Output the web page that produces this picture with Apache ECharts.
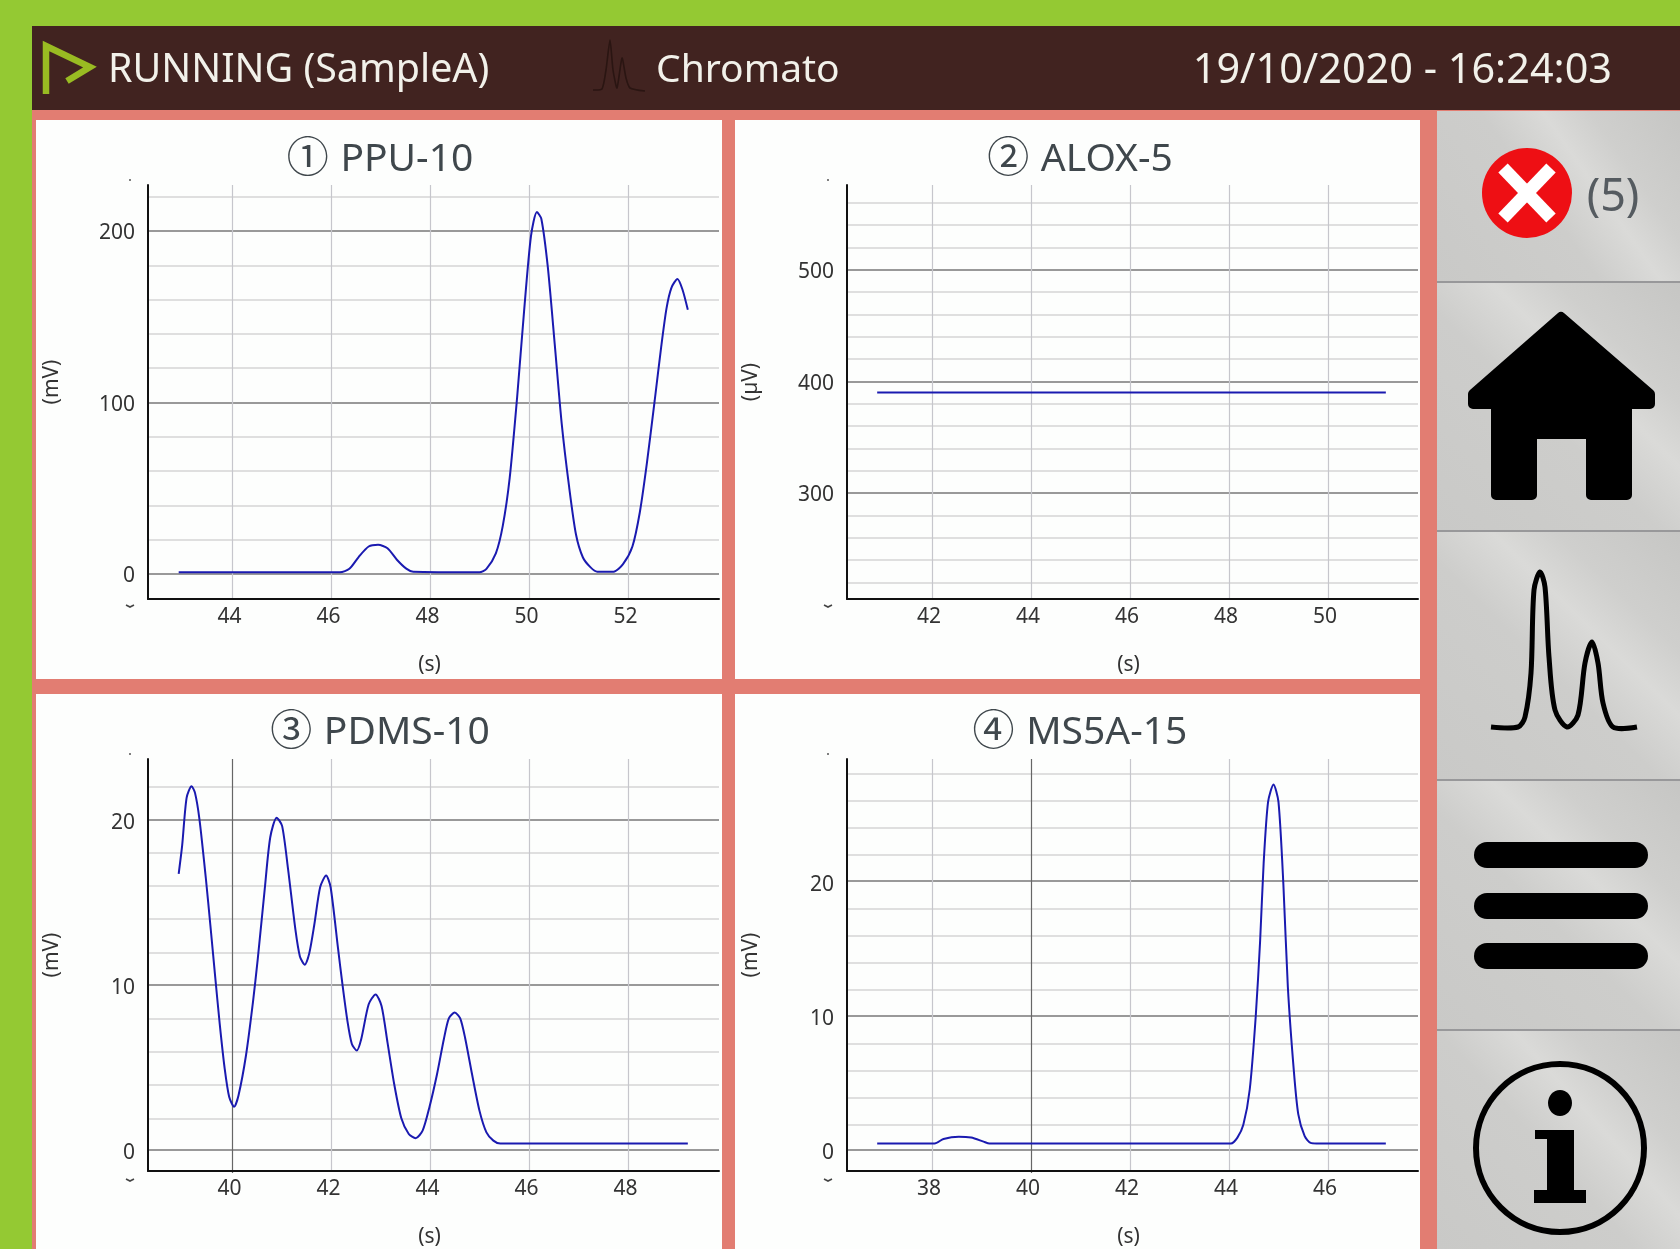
<!DOCTYPE html>
<html><head><meta charset="utf-8">
<style>html,body{margin:0;padding:0;background:#94c933}#c{width:1680px;height:1249px}</style>
<script src="https://cdn.jsdelivr.net/npm/echarts@6/dist/echarts.min.js"></script>
</head><body><div id="c"></div>
<script>
const ppuX=[42.91,46.17,46.36,46.55,46.75,46.94,47.13,47.32,47.51,47.65,48.99,49.13,49.32,49.46,49.6,49.75,49.89,50.03,50.15,50.24,50.37,50.51,50.65,50.8,50.94,51.08,51.23,51.37,51.7,51.89,52.08,52.23,52.37,52.53,52.66,52.77,52.87,52.99,53.09,53.2];
const ppuY=[1,1,3,10,16,17,15,8.3,3.1,1.3,1,3,12,28,56,103,153,197,211,207,179,134,88,51,23,9.6,4,1.3,1.3,5.7,16,36,64,101,132,155,167,172,166,154];
const aloxX=[40.89,51.17];
const aloxY=[390,390];
const pdmsX=[38.91,38.98,39.07,39.17,39.24,39.33,39.46,39.55,39.65,39.74,39.84,39.93,40.03,40.12,40.27,40.41,40.51,40.65,40.76,40.89,41.0,41.12,41.27,41.36,41.46,41.55,41.65,41.77,41.89,41.98,42.13,42.22,42.32,42.41,42.51,42.6,42.75,42.89,43.01,43.13,43.27,43.41,43.56,43.7,43.84,43.98,44.13,44.27,44.37,44.49,44.6,44.7,44.84,44.99,45.13,45.27,45.41,49.2];
const pdmsY=[16.7,18.4,21.3,22,21.6,20,16.4,13.6,10.4,7.6,4.9,3.2,2.6,3.3,5.7,8.9,11.6,15.8,18.9,20.1,19.6,17,13.3,11.7,11.2,11.9,13.6,15.9,16.6,15.9,12.2,10,7.8,6.4,6,6.7,8.8,9.4,8.7,6.5,3.9,1.9,0.95,0.7,1.15,2.6,4.55,6.7,7.95,8.3,7.95,6.75,4.55,2.35,1.05,0.55,0.37,0.37];
const msX=[36.89,38.05,38.23,38.54,38.79,39.04,39.16,44.04,44.17,44.29,44.42,44.54,44.63,44.7,44.79,44.9,45.0,45.1,45.19,45.31,45.4,45.53,45.65,45.77,47.17];
const msY=[0.46,0.46,0.8,0.97,0.9,0.6,0.46,0.46,0.9,1.85,4.5,9.9,15.6,21.3,25.9,27.2,25.9,19.7,12.1,5.9,2.65,1,0.5,0.46,0.46];

const ppuXTicks=[44,46,48,50,52], aloxXTicks=[42,44,46,48,50], pdmsXTicks=[40,42,44,46,48], msXTicks=[38,40,42,44,46];
const ppuYTicks=[0,100,200], aloxYTicks=[300,400,500], pdmsYTicks=[0,10,20], msYTicks=[0,10,20];
const ppuYMinor=[20,40,60,80,120,140,160,180,220];
const aloxYMinor=[220,240,260,280,320,340,360,380,420,440,460,480,520,540,560];
const pdmsYMinor=[2,4,6,8,12,14,16,18,22];
const msYMinor=[2,4,6,8,12,14,16,18,22,24,26,28];

const FONT='"Noto Sans","Noto Sans CJK JP",sans-serif';
const panels=[
 {c:'①',t:'PPU-10',u:'(mV)',cx:379,ty:155,left:148,top:185,w:571,h:414,xr:[42.29,53.83],yr:[-14.6,226.8],xs:ppuX,ys:ppuY,xt:ppuXTicks,xd:[],yt:ppuYTicks,ym:ppuYMinor,pl:36,pr:722,lh:4.5},
 {c:'②',t:'ALOX-5',u:'(µV)',cx:1079,ty:155,left:847,top:185,w:571,h:414,xr:[40.28,51.82],yr:[205,576],xs:aloxX,ys:aloxY,xt:aloxXTicks,xd:[],yt:aloxYTicks,ym:aloxYMinor,pl:735,pr:1420,lh:4.5},
 {c:'③',t:'PDMS-10',u:'(mV)',cx:379,ty:728,left:148,top:759,w:571,h:414,xr:[38.29,49.83],yr:[-1.29,23.65],xs:pdmsX,ys:pdmsY,xt:[42,44,46,48],xd:[40],yt:pdmsYTicks,ym:pdmsYMinor,pl:36,pr:722,lh:7.5},
 {c:'④',t:'MS5A-15',u:'(mV)',cx:1079,ty:728,left:847,top:759,w:571,h:414,xr:[36.28,47.82],yr:[-1.59,29.1],xs:msX,ys:msY,xt:[38,42,44,46],xd:[40],yt:msYTicks,ym:msYMinor,pl:735,pr:1420,lh:7.5}
];
const allXLabels=[ppuXTicks,aloxXTicks,pdmsXTicks,msXTicks];
const grid=[],xAxis=[],yAxis=[],series=[],title=[];
panels.forEach((p,i)=>{
  grid.push({left:p.left,top:p.top,width:p.w,height:p.h,containLabel:false});
  grid.push({left:p.left,top:p.top,width:p.w,height:p.h,containLabel:false});
  const g=2*i;
  xAxis.push({type:'value',gridIndex:g,min:p.xr[0],max:p.xr[1],position:'bottom',
    axisLine:{show:true,onZero:false,lineStyle:{color:'#111',width:2}},
    axisTick:{show:false,customValues:p.xt},
    axisLabel:{show:true,customValues:allXLabels[i],formatter:v=>String(Math.round(v)),color:'#333',fontSize:21,fontFamily:FONT,margin:8,padding:[0,6,0,0]},
    splitLine:{show:true,showMinLine:true,showMaxLine:true,lineStyle:{color:'#c6c6cc',width:1.2}},
    name:'(s)',nameLocation:'middle',nameGap:56,nameTextStyle:{color:'#333',fontSize:21,fontFamily:FONT,padding:[0,8,0,0]}});
  xAxis.push({type:'value',gridIndex:g+1,min:p.xr[0],max:p.xr[1],
    axisLine:{show:false,onZero:false},axisLabel:{show:false},
    axisTick:{show:false,customValues:p.xd},
    splitLine:{show:p.xd.length>0,showMinLine:true,showMaxLine:true,lineStyle:{color:'#666',width:1.2}}});
  yAxis.push({type:'value',gridIndex:g,min:p.yr[0],max:p.yr[1],
    axisLine:{show:true,onZero:false,lineStyle:{color:'#111',width:2}},
    axisTick:{show:false,customValues:p.yt},
    axisLabel:{show:true,customValues:p.yt,formatter:v=>String(Math.round(v)),color:'#333',fontSize:21,fontFamily:FONT,margin:13,verticalAlign:'top',lineHeight:p.lh},
    splitLine:{show:true,showMinLine:true,showMaxLine:true,lineStyle:{color:'#777',width:1.5}},
    name:p.u,nameLocation:'middle',nameGap:p.left-(p.pl+18)-9,nameRotate:90,nameTextStyle:{color:'#333',fontSize:21,fontFamily:FONT,padding:[0,0,0,20]}});
  yAxis.push({type:'value',gridIndex:g+1,min:p.yr[0],max:p.yr[1],
    axisLine:{show:false,onZero:false},axisLabel:{show:false},
    axisTick:{show:false,customValues:p.ym},
    splitLine:{show:true,showMinLine:true,showMaxLine:true,lineStyle:{color:'#d4d4d4',width:1.5}}});
  series.push({type:'line',xAxisIndex:g,yAxisIndex:g,data:p.xs.map((x,k)=>[x,p.ys[k]]),smooth:0.25,showSymbol:false,z:5,
    lineStyle:{color:'#1a1ab0',width:2},silent:true,animation:false});
  title.push({text:'{a|'+p.c+'}   {b|'+p.t+'}',left:p.cx-4,top:p.ty,textAlign:'center',textVerticalAlign:'middle',
    textStyle:{fontWeight:'normal',fontSize:14,rich:{a:{fontFamily:FONT,fontWeight:'normal',fontSize:42,color:'#3f474c'},b:{fontFamily:FONT,fontWeight:'normal',fontSize:39,color:'#3f474c'}}}});
});

const g=[];
const R=(x,y,w,h,fill,z)=>g.push({type:'rect',silent:true,z:z||-10,shape:{x,y,width:w,height:h},style:{fill}});
const T=(x,y,text,size,fill,align)=>g.push({type:'text',silent:true,z:20,x,y,style:{text,fontFamily:FONT,fontSize:size,fill,textAlign:align||'left',textVerticalAlign:'middle'}});
R(0,0,1680,1249,'#94c933');
R(32,26,1648,1223,'#e27d72');
R(32,26,1648,84,'#412320');
panels.forEach(p=>R(p.pl,p.top<500?120:694,p.pr-p.pl,p.top<500?559:555,'#fdfefd'));
const cells=[[111,171],[282,249],[531,249],[780,250],[1030,219]];
cells.forEach(c=>{
  g.push({type:'rect',silent:true,z:-9,shape:{x:1437,y:c[0],width:243,height:c[1]},
   style:{fill:new echarts.graphic.LinearGradient(0,1,1,0,[{offset:0,color:'#c9c9c7'},{offset:.45,color:'#cdcdcb'},{offset:.62,color:'#dadad8'},{offset:.75,color:'#cfcfcd'},{offset:1,color:'#c6c6c4'}])}});
});
[282,531,780,1030].forEach(y=>R(1437,y-1,243,2,'#98989a',-8));
g.push({type:'polyline',silent:true,z:20,shape:{points:[[46,94],[46,46],[90,67],[67,81]]},style:{fill:'none',stroke:'#99bb22',lineWidth:6.5}});
g.push({type:'polyline',silent:true,z:20,shape:{smooth:0.2,points:[[593,90],[602,89],[606,70],[610,40],[613,70],[617,88],[622,58],[626,78],[630,88],[645,91]]},style:{fill:'none',stroke:'#2a1512',lineWidth:1.6}});
T(108,71,'RUNNING (SampleA)',39.4,'#f2f1ea');
T(656,71,'Chromato',39,'#f2f1ea');
T(1612,71,'19/10/2020 - 16:24:03',41.4,'#f2f1ea','right');
panels.forEach(p=>{
  const lx=p.pl<100?130:828;
  const yTop=p.top-5,yBot=p.top+p.h+7;
  g.push({type:'circle',silent:true,z:20,shape:{cx:lx,cy:yTop,r:1},style:{fill:'#555'}});
  g.push({type:'polyline',silent:true,z:20,shape:{points:[[lx-4,yBot-1],[lx,yBot+1],[lx+4,yBot-1]]},style:{fill:'none',stroke:'#444',lineWidth:1.6}});
});
g.push({type:'circle',silent:true,z:20,shape:{cx:1527,cy:193,r:45},style:{fill:'#ee0f14'}});
[[[1503,168],[1551,218]],[[1551,168],[1503,218]]].forEach(s=>g.push({type:'line',silent:true,z:21,shape:{x1:s[0][0],y1:s[0][1],x2:s[1][0],y2:s[1][1]},style:{stroke:'#fff',lineWidth:13}}));
T(1613,198,'(5)',45,'#555b60','center');
g.push({type:'polygon',silent:true,z:20,shape:{points:[[1561,317],[1650,394],[1650,404],[1627,404],[1627,495],[1591,495],[1591,434],[1532,434],[1532,495],[1496,495],[1496,404],[1473,404],[1473,394]]},style:{fill:'#000',stroke:'#000',lineWidth:10,lineJoin:'round'}});
g.push({type:'polyline',silent:true,z:20,shape:{smooth:0.3,points:[[1491,727],[1518,727],[1525,717],[1531,673],[1534,590],[1540,572],[1545,587],[1549,657],[1555,710],[1567,727],[1578,715],[1585,663],[1592,642],[1598,663],[1603,703],[1613,727],[1637,727]]},style:{fill:'none',stroke:'#000',lineWidth:5}});
[842,893,943].forEach(y=>g.push({type:'rect',silent:true,z:20,shape:{x:1474,y,width:174,height:26,r:13},style:{fill:'#000'}}));
g.push({type:'ellipse',silent:true,z:20,shape:{cx:1560,cy:1148,rx:84,ry:84},style:{fill:'none',stroke:'#000',lineWidth:6}});
g.push({type:'ellipse',silent:true,z:20,shape:{cx:1560,cy:1103,rx:12,ry:13},style:{fill:'#000'}});
g.push({type:'polygon',silent:true,z:20,shape:{points:[[1535,1130],[1574,1130],[1574,1190],[1586,1190],[1586,1203],[1534,1203],[1534,1190],[1547,1190],[1547,1139],[1535,1139]]},style:{fill:'#000'}});

const chart=echarts.init(document.getElementById('c'),null,{renderer:'canvas',width:1680,height:1249});
chart.setOption({animation:false,backgroundColor:'#94c933',title,grid,xAxis,yAxis,series,graphic:{elements:g},tooltip:{show:false}});
</script></body></html>
